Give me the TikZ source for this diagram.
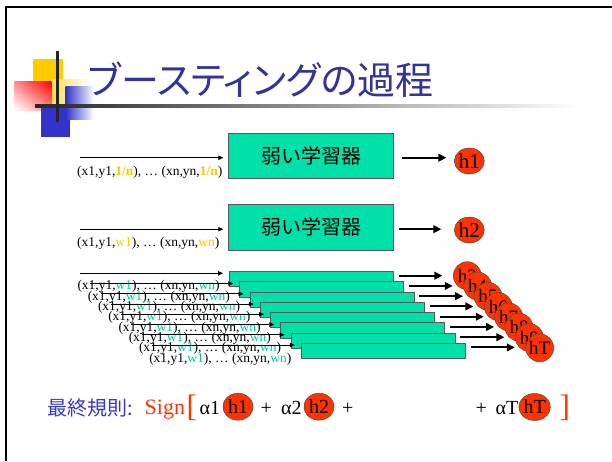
\documentclass[tikz,border=0pt]{standalone}
\usepackage{fontspec}
\setmainfont{Liberation Serif}
\newfontfamily\jp{Noto Sans CJK JP}
\newfontfamily\jpt[RawFeature=+palt]{Noto Sans CJK JP}
\usetikzlibrary{arrows.meta,shapes.geometric,shadings}
\definecolor{titleblue}{RGB}{51,51,153}
\definecolor{ruleblue}{RGB}{55,55,200}
\definecolor{logoblue}{RGB}{51,51,204}
\definecolor{logoyellow}{RGB}{255,204,0}
\definecolor{boxgreen}{RGB}{0,224,168}
\definecolor{textgreen}{RGB}{0,204,153}
\definecolor{circred}{RGB}{255,51,0}
\definecolor{gold}{RGB}{250,200,0}
\definecolor{signred}{RGB}{255,51,0}
\tikzset{
  learner/.style={draw=black!65, line width=0.6pt, fill=boxgreen, minimum width=165pt, minimum height=45.5pt, inner sep=0pt, anchor=north west, font=\jp\fontsize{20}{24}\selectfont},
  stackbox/.style={draw=black!65, line width=0.6pt, fill=boxgreen, minimum width=164pt, minimum height=15.3pt, inner sep=0pt, anchor=north west},
  hcirc/.style={ellipse, draw=black!70, line width=0.5pt, fill=circred, inner sep=0pt, minimum width=30pt, minimum height=26pt, font=\fontsize{21}{22}\selectfont},
  scirc/.style={circle, draw=black!70, line width=0.5pt, fill=circred, inner sep=0pt, minimum size=28pt, font=\fontsize{19}{20}\selectfont},
  fcirc/.style={ellipse, draw=black!70, line width=0.5pt, fill=circred, inner sep=0pt, minimum width=30pt, minimum height=27pt, font=\fontsize{20}{21}\selectfont},
  lab/.style={anchor=west, inner sep=0pt, font=\fontsize{13.5}{15}\selectfont},
  inarr/.style={line width=0.9pt, -{Triangle[length=5pt,width=4.5pt]}},
  outarr/.style={line width=2pt, -{Triangle[length=8pt,width=7.5pt]}},
  ftxt/.style={anchor=base west, inner sep=0pt, font=\fontsize{20}{21}\selectfont},
}
\begin{document}
\begin{tikzpicture}[x=1pt,y=-1pt]
\useasboundingbox (0,0) rectangle (612,461);
\fill[white] (0,0) rectangle (612,461);
% frame
\draw[line width=2.5pt, black] (6.2,461) -- (6.2,7) -- (612,7);
% logo
\fill[logoyellow] (33,59) rectangle (62.5,95);
\shade[left color=logoyellow!70!white, right color=white] (51.6,79) rectangle (90,108);
\shade[upper right=red, lower left=white, upper left=red!45!white, lower right=red!45!white] (14.5,81.7) rectangle (51.6,110);
\fill[logoblue] (41,107) rectangle (69.5,137);
\shade[left color=logoblue, right color=white] (65.6,86) rectangle (93.7,119);
\shade[left color=black!85, right color=white] (35,104.3) rectangle (580,107.2);
\fill[black!85] (56.2,50.7) rectangle (59,121.7);
% title
\node[anchor=west, inner sep=0pt, text=titleblue, font=\jpt\fontsize{38}{42}\selectfont] (title) at (88,80) {ブースティングの過程};
% row 1
\node[learner] (b1) at (228.3,132.7) {弱い学習器};
\node[hcirc] (c1) at (469.3,161) {h1};
\coordinate (s1) at (80,157.7);
\draw[inarr, shorten >=5pt] (s1) -- (b1.west |- s1);
\draw[outarr, shorten <=8.4pt, shorten >=7.6pt] (b1.east |- s1) -- (c1.west |- s1);
\node[lab] (l1) at (77,172) {(x1,y1,\textcolor{gold}{\textbf{1/n}}), \dots\ (xn,yn,\textcolor{gold}{\textbf{1/n}})};
% row 2
\node[learner] (b2) at (228.3,204) {弱い学習器};
\node[hcirc] (c2) at (469.3,230) {h2};
\coordinate (s2) at (80,229.2);
\draw[inarr, shorten >=5pt] (s2) -- (b2.west |- s2);
\draw[outarr, shorten <=4.7pt, shorten >=12.6pt] (b2.east |- s2) -- (c2.west |- s2);
\node[lab] (l2) at (77,243) {(x1,y1,\textcolor{gold}{w1}), \dots\ (xn,yn,\textcolor{gold}{wn})};
% stack
\foreach \k/\hl in {0/h3,1/h4,2/h5,3/h6,4/h7,5/h8,6/h9,7/hT} {
  \node[lab] (sl\k) at ({77.3+10.25*\k},{286.7+10.33*\k}) {(x1,y1,\textcolor{textgreen}{w1}), \dots\ (xn,yn,\textcolor{textgreen}{wn})};
  \coordinate (ss\k) at ({80+10.25*\k},{273.3+10.25*\k});
  \coordinate (so\k) at (0,{275.7+10.25*\k});
  \node[stackbox] (sb\k) at ({229+10.25*\k},{271+10.25*\k}) {};
}
\foreach \k/\hl in {0/h3,1/h4,2/h5,3/h6,4/h7,5/h8,6/h9,7/hT} {
  \draw[inarr, shorten >=6pt] (ss\k) -- (sb\k.west |- ss\k);
  \node[scirc] (sc\k) at ({467.3+10.34*\k},{275.7+10.3*\k}) {\hl};
  \draw[outarr, shorten <=5.3pt, shorten >=10.6pt] (sb\k.east |- so\k) -- (sc\k.west |- so\k);
}
% final rule
\node[anchor=base west, inner sep=0pt, text=ruleblue, font=\jp\fontsize{20}{22}\selectfont] (rule) at (47,415) {最終規則:};
\node[anchor=base west, inner sep=0pt, text=signred, font=\fontsize{22}{24}\selectfont] (sign) at (144.5,414.5) {Sign};
\node[anchor=base west, inner sep=0pt, text=signred, font=\fontsize{31}{32}\selectfont] (lb) at (186.5,416) {[};
\node[ftxt] (a1) at (199.5,414.5) {α1};
\node[fcirc] (f1) at (238,406.7) {h1};
\node[ftxt] (p1) at (260.5,414.5) {+};
\node[ftxt] (a2) at (281,414.5) {α2};
\node[fcirc] (f2) at (319,406.7) {h2};
\node[ftxt] (p2) at (342,414.5) {+};
\node[ftxt] (p3) at (475.5,414.5) {+};
\node[ftxt] (aT) at (495.5,414.5) {αT};
\node[fcirc] (fT) at (534.6,407) {hT};
\node[anchor=base west, inner sep=0pt, text=signred, font=\fontsize{31}{32}\selectfont] (rb) at (559.5,416) {]};
\end{tikzpicture}
\end{document}
